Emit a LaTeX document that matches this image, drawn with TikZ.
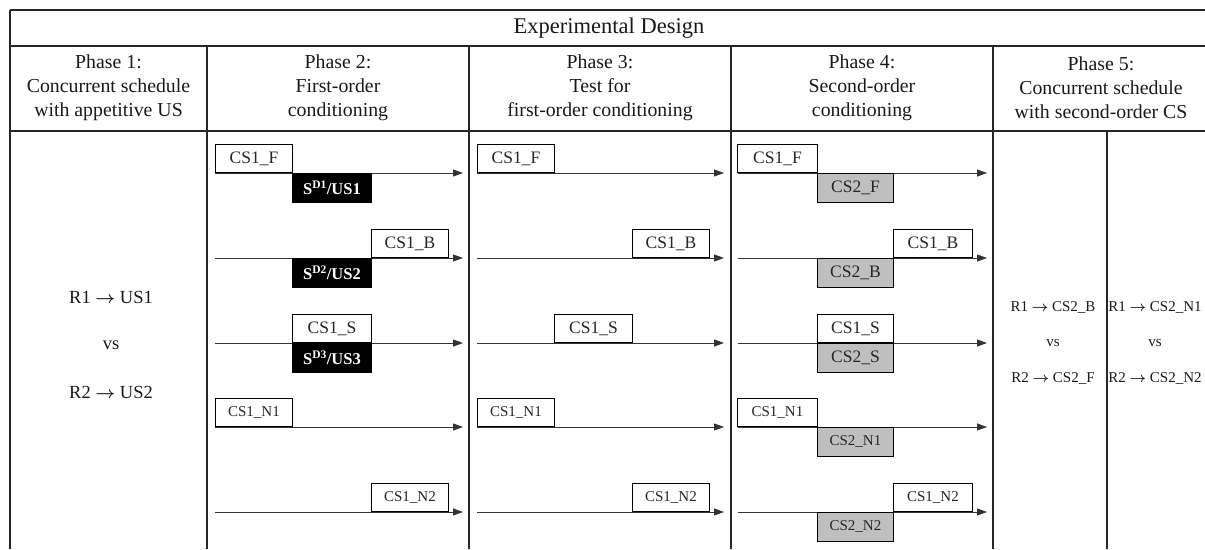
\documentclass[tikz,border=0pt]{standalone}
\usepackage{fontspec}
\setmainfont{Liberation Serif}
\usetikzlibrary{arrows.meta}
\newcommand{\fsz}[1]{\fontsize{#1}{#1}\selectfont}
\newcommand{\rarr}{{\boldmath$\rightarrow$}}
\tikzset{
  gridline/.style={line width=1.5pt, black!85},
  csbox/.style={draw, line width=0.9pt, fill=white, inner sep=0pt, minimum height=28pt, text=black!85, font=\fsz{17.5}},
  csnbox/.style={csbox, font=\fsz{15}},
  usbox/.style={csbox, fill=black, text=white, font=\bfseries\fsz{16.5}},
  cstwo/.style={csbox, fill=gray!50},
  cstwon/.style={cstwo, font=\fsz{15}},
  timeline/.style={line width=0.9pt, black!80, -{Triangle[length=10pt,width=7pt]}},
  hdr/.style={align=center, font=\fontsize{19.8}{24}\selectfont, text=black!90},
  bigtxt/.style={font=\fsz{18.5}, text=black!90},
  ptxt/.style={font=\fsz{15}, text=black!90},
}
\begin{document}
\begin{tikzpicture}[x=1pt,y=-1pt]
\useasboundingbox (0,0) rectangle (1205,549);
% table grid
\draw[gridline] (10,10) -- (1205,10);
\draw[gridline] (10,46) -- (1205,46);
\draw[gridline] (10,131) -- (1205,131);
\draw[gridline] (10,10) -- (10,549);
\foreach \x in {207,469,731,993} \draw[gridline] (\x,46) -- (\x,549);
\draw[gridline] (1107,131) -- (1107,549);
% headers
\node[font=\fsz{22.5}, text=black!90] (title) at (609,28) {Experimental Design};
\node[hdr] (h1) at (108.5,88) {Phase 1:\\Concurrent schedule\\with appetitive US};
\node[hdr] (h2) at (338,88) {Phase 2:\\First-order\\conditioning};
\node[hdr] (h3) at (600,88) {Phase 3:\\Test for\\first-order conditioning};
\node[hdr] (h4) at (862,88) {Phase 4:\\Second-order\\conditioning};
\node[hdr] (h5) at (1101,88) {Phase 5:\\Concurrent schedule\\with second-order CS};
% phase 1
\node[bigtxt] (p1a) at (111,297) {R1 \rarr{} US1};
\node[bigtxt] (p1v) at (111,345) {vs};
\node[bigtxt] (p1b) at (111,392) {R2 \rarr{} US2};
% timelines coordinates
\foreach \r/\y in {1/173,2/258,3/343,4/427,5/512}{
  \coordinate (a\r s) at (215,\y); \coordinate (a\r e) at (463,\y);
  \coordinate (b\r s) at (477,\y); \coordinate (b\r e) at (724,\y);
  \coordinate (c\r s) at (738,\y); \coordinate (c\r e) at (987,\y);
}
\foreach \r in {1,...,5}{
  \draw[timeline] (a\r s) -- (a\r e);
  \draw[timeline] (b\r s) -- (b\r e);
  \draw[timeline] (c\r s) -- (c\r e);
}
% phase 2
\node[csbox, anchor=south west, minimum width=77pt] (p2f) at (215,173) {CS1\_F};
\node[usbox, anchor=north west, minimum width=79pt, minimum height=29pt] (p2u1) at (292,173) {S\textsuperscript{D1}/US1};
\node[csbox, anchor=south west, minimum width=77pt] (p2b) at (371,258) {CS1\_B};
\node[usbox, anchor=north west, minimum width=79pt, minimum height=29pt] (p2u2) at (292,258) {S\textsuperscript{D2}/US2};
\node[csbox, anchor=south west, minimum width=79pt] (p2s) at (292,343) {CS1\_S};
\node[usbox, anchor=north west, minimum width=79pt, minimum height=29pt] (p2u3) at (292,343) {S\textsuperscript{D3}/US3};
\node[csnbox, anchor=south west, minimum width=77pt] (p2n1) at (215,427) {CS1\_N1};
\node[csnbox, anchor=south west, minimum width=77pt] (p2n2) at (371,512) {CS1\_N2};
% phase 3
\node[csbox, anchor=south west, minimum width=77pt] (p3f) at (477,173) {CS1\_F};
\node[csbox, anchor=south west, minimum width=77pt] (p3b) at (632,258) {CS1\_B};
\node[csbox, anchor=south west, minimum width=78pt] (p3s) at (554,343) {CS1\_S};
\node[csnbox, anchor=south west, minimum width=77pt] (p3n1) at (477,427) {CS1\_N1};
\node[csnbox, anchor=south west, minimum width=77pt] (p3n2) at (632,512) {CS1\_N2};
% phase 4
\node[csbox, anchor=south west, minimum width=80pt] (p4f) at (737,173) {CS1\_F};
\node[cstwo, anchor=north west, minimum width=76pt, minimum height=29pt] (p4f2) at (817,173) {CS2\_F};
\node[csbox, anchor=south west, minimum width=79pt] (p4b) at (893,258) {CS1\_B};
\node[cstwo, anchor=north west, minimum width=76pt, minimum height=29pt] (p4b2) at (817,258) {CS2\_B};
\node[csbox, anchor=south west, minimum width=76pt] (p4s) at (817,343) {CS1\_S};
\node[cstwo, anchor=north west, minimum width=76pt, minimum height=29pt] (p4s2) at (817,343) {CS2\_S};
\node[csnbox, anchor=south west, minimum width=80pt] (p4n1) at (737,427) {CS1\_N1};
\node[cstwon, anchor=north west, minimum width=76pt, minimum height=29pt] (p4n12) at (817,427) {CS2\_N1};
\node[csnbox, anchor=south west, minimum width=79pt] (p4n2) at (893,512) {CS1\_N2};
\node[cstwon, anchor=north west, minimum width=76pt, minimum height=29pt] (p4n22) at (817,512) {CS2\_N2};
% phase 5
\node[ptxt] (p5a) at (1053,307) {R1 \rarr{} CS2\_B};
\node[ptxt] (p5v) at (1053,343) {vs};
\node[ptxt] (p5b) at (1053,378) {R2 \rarr{} CS2\_F};
\node[ptxt] (p5c) at (1155,307) {R1 \rarr{} CS2\_N1};
\node[ptxt] (p5w) at (1155,343) {vs};
\node[ptxt] (p5d) at (1155,378) {R2 \rarr{} CS2\_N2};
\end{tikzpicture}
\end{document}
